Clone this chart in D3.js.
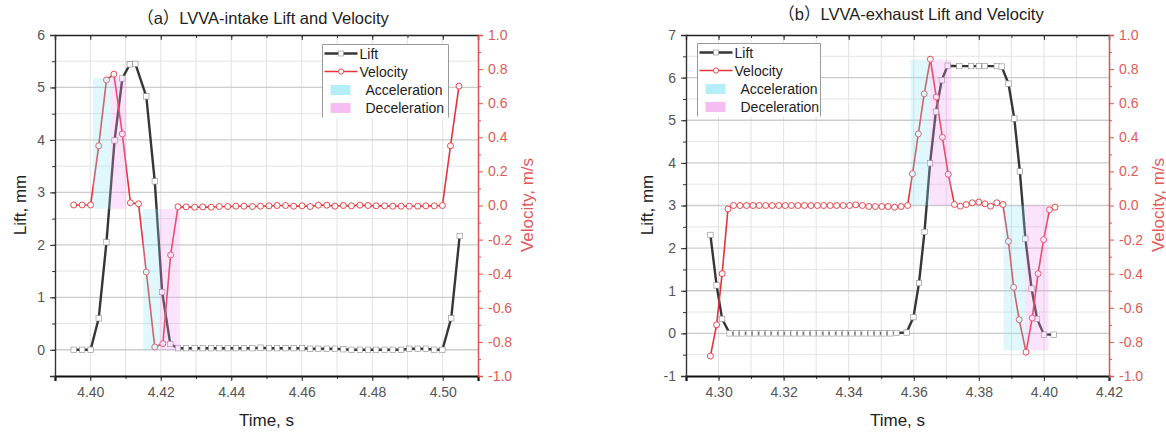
<!DOCTYPE html>
<html>
<head>
<meta charset="utf-8">
<script src="https://cdn.jsdelivr.net/npm/d3@7"></script>
<style>
body { margin: 0; background: #fff; }
svg { display: block; font-family: "Liberation Sans", Arial, "Noto Sans CJK SC", sans-serif; }
</style>
</head>
<body>
<div id="main"></div>
<script>
var WIDTH = 1166, HEIGHT = 432;

// ---- (a) intake ----
var intakeVelTime = [4.3953, 4.3977, 4.4001, 4.4024, 4.4046, 4.4067, 4.4091, 4.4114, 4.4137, 4.4159, 4.4183, 4.4206, 4.4228, 4.4249,
	4.4272, 4.4296, 4.4319, 4.4343, 4.4366, 4.4390, 4.4413, 4.4436, 4.4460, 4.4483,
	4.4507, 4.4530, 4.4554, 4.4577, 4.4601, 4.4624, 4.4647, 4.4671, 4.4694, 4.4718,
	4.4741, 4.4765, 4.4788, 4.4811, 4.4835, 4.4858, 4.4882, 4.4905, 4.4929, 4.4952,
	4.4976, 4.4999, 4.5022, 4.5046];
var intakeVel = [0.003, 0.003, 0.003, 0.35, 0.736, 0.77, 0.42, 0.016, 0.01, -0.39, -0.83, -0.81, -0.29, -0.007,
	-0.008, -0.01, -0.008, -0.01, -0.006, -0.006, -0.004, -0.004, -0.006, -0.004,
	-0.002, 0.0, 0.0, -0.004, -0.002, -0.006, 0.002, 0.002, -0.004, 0.0,
	-0.002, 0.002, 0.0, -0.002, -0.002, -0.004, -0.004, -0.004, -0.004, -0.002,
	-0.002, 0.0, 0.35, 0.70];
var intakeLiftTime = [4.3953, 4.3977, 4.4001, 4.4024, 4.4046, 4.4069, 4.4091, 4.4112, 4.4128, 4.4159, 4.4183, 4.4204, 4.4227, 4.4249,
	4.4272, 4.4296, 4.4319, 4.4343, 4.4366, 4.4390, 4.4413, 4.4436, 4.4460, 4.4483,
	4.4507, 4.4530, 4.4554, 4.4577, 4.4601, 4.4624, 4.4647, 4.4671, 4.4694, 4.4718,
	4.4741, 4.4765, 4.4788, 4.4811, 4.4835, 4.4858, 4.4882, 4.4905, 4.4929, 4.4952,
	4.4976, 4.4999, 4.5024, 4.5048];
var intakeLift = [0.0, 0.0, 0.0, 0.6, 2.05, 3.99, 5.17, 5.44, 5.45, 4.83, 3.21, 1.1, 0.11, 0.03,
	0.03, 0.03, 0.03, 0.03, 0.03, 0.03, 0.03, 0.03, 0.03, 0.04,
	0.03, 0.03, 0.03, 0.03, 0.03, 0.02, 0.02, 0.02, 0.02, 0.01,
	0.0, 0.0, 0.0, 0.0, 0.0, 0.0, 0.0, 0.02, 0.02, 0.02,
	0.0, 0.0, 0.6, 2.17];
// shaded bands: [t start, t end, v low, v high]
var intakeAccel = [[4.4008, 4.4058, -0.02, 0.75], [4.4150, 4.4197, -0.85, -0.02]];
var intakeDecel = [[4.4058, 4.4103, -0.02, 0.75], [4.4197, 4.4254, -0.85, -0.02]];
var intakeTimeTicks = [4.40, 4.42, 4.44, 4.46, 4.48, 4.50];
var intakeLiftTicks = [0, 1, 2, 3, 4, 5, 6];

// ---- (b) exhaust ----
var exhaustVelTime = [4.2975, 4.2994, 4.3011, 4.3029,
	4.3046, 4.3066, 4.3086, 4.3106, 4.3125, 4.3145, 4.3165, 4.3185, 4.3205, 4.3224,
	4.3244, 4.3264, 4.3284, 4.3304, 4.3323, 4.3343, 4.3363, 4.3383, 4.3403, 4.3422,
	4.3442, 4.3462, 4.3482, 4.3502, 4.3521, 4.3541, 4.3561,
	4.3581, 4.3596, 4.3614, 4.3632, 4.3651, 4.3669, 4.3688, 4.3706, 4.3725, 4.3743,
	4.3761, 4.3780, 4.3800, 4.3819, 4.3836, 4.3855, 4.3874,
	4.3891, 4.3907, 4.3924, 4.3945, 4.3964, 4.3982, 4.3999, 4.4017, 4.4034];
var exhaustVel = [-0.883, -0.70, -0.40, -0.02,
	0.0, 0.0, 0.0, 0.0, 0.0, 0.0, 0.0, 0.0, 0.0, 0.0,
	0.0, 0.0, 0.0, 0.0, 0.0, 0.0, 0.0, 0.0, 0.0, 0.004,
	0.0, -0.006, -0.006, -0.006, -0.006, -0.01, -0.006,
	0.0, 0.186, 0.42, 0.655, 0.858, 0.637, 0.40, 0.183, 0.006, -0.004,
	0.006, 0.016, 0.02, 0.01, -0.004, 0.016, 0.006,
	-0.21, -0.48, -0.67, -0.86, -0.66, -0.40, -0.20, -0.025, -0.01];
var exhaustLiftTime = [4.2975, 4.2994, 4.3011, 4.3034,
	4.3054, 4.3073, 4.3093, 4.3113, 4.3133, 4.3152, 4.3172, 4.3192, 4.3212, 4.3231,
	4.3251, 4.3271, 4.3291, 4.3310, 4.3330, 4.3350, 4.3370, 4.3389, 4.3409, 4.3429,
	4.3449, 4.3468, 4.3488, 4.3508, 4.3528, 4.3547, 4.3578,
	4.3599, 4.3616, 4.3633, 4.3650, 4.3668, 4.3686, 4.3704,
	4.3740, 4.3776, 4.3800, 4.3818, 4.3855, 4.3870,
	4.3891, 4.3909, 4.3926, 4.3943, 4.3962, 4.3979, 4.4000, 4.4030];
var exhaustLift = [2.31, 1.125, 0.34, 0.0,
	0.0, 0.0, 0.0, 0.0, 0.0, 0.0, 0.0, 0.0, 0.0, 0.0,
	0.0, 0.0, 0.0, 0.0, 0.0, 0.0, 0.0, 0.0, 0.0, 0.0,
	0.0, 0.0, 0.0, 0.0, 0.0, 0.01, 0.02,
	0.38, 1.18, 2.38, 3.99, 5.2, 5.94, 6.28,
	6.27, 6.27, 6.27, 6.27, 6.27, 6.26,
	5.86, 5.04, 3.80, 2.22, 1.05, 0.34, -0.03, -0.03];
var exhaustAccel = [[4.3590, 4.3650, 0.0, 0.855], [4.3876, 4.3942, -0.85, 0.0]];
var exhaustDecel = [[4.3650, 4.3716, 0.0, 0.855], [4.3942, 4.4014, -0.85, 0.0]];
var exhaustTimeTicks = [4.30, 4.32, 4.34, 4.36, 4.38, 4.40, 4.42];
var exhaustLiftTicks = [-1, 0, 1, 2, 3, 4, 5, 6, 7];

var velTicks = [-1.0, -0.8, -0.6, -0.4, -0.2, 0.0, 0.2, 0.4, 0.6, 0.8, 1.0];
var legendNames = ["Lift", "Velocity", "Acceleration", "Deceleration"];

var RED = "#e4343c", RED_AXIS = "#d9534f", RED_TEXT = "#e05a5a";
var DARK = "#363636", TICK_TEXT = "#555";
var CYAN = "#8fe6f2", PINK = "#f29cf0";

var svg = d3.select("#main").append("svg")
	.attr("width", WIDTH)
	.attr("height", HEIGHT);

function zip(a, b) {
	return a.map(function(d, i) { return [d, b[i]]; });
}

function drawPanel(p) {
	var g = svg.append("g");
	var x = d3.scaleLinear().domain(p.xDom).range([p.left, p.right]);
	var yL = d3.scaleLinear().domain(p.liftDom).range([p.bottom, p.top]);
	var yV = d3.scaleLinear().domain([-1, 1]).range([p.bottom, p.top]);

	// grid
	var xMinor = d3.range(Math.round(p.xDom[0] * 100) + 1, Math.round(p.xDom[1] * 100)).map(function(d) { return d / 100; });
	var yGrid = d3.range(p.liftDom[0] * 2 + 1, p.liftDom[1] * 2).map(function(d) { return d / 2; });
	g.selectAll(".vgrid").data(xMinor).enter().append("line")
		.attr("x1", function(d) { return x(d); }).attr("x2", function(d) { return x(d); })
		.attr("y1", p.top).attr("y2", p.bottom)
		.attr("stroke", "#e2e2e2").attr("stroke-width", 1);
	g.selectAll(".hgrid").data(yGrid).enter().append("line")
		.attr("x1", p.left).attr("x2", p.right)
		.attr("y1", function(d) { return yL(d); }).attr("y2", function(d) { return yL(d); })
		.attr("stroke", function(d) { return d % 1 === 0 ? "#cccccc" : "#e4e4e4"; })
		.attr("stroke-width", function(d) { return d % 1 === 0 ? 1.3 : 1; });

	var liftData = zip(p.liftT, p.lift);
	var velData = zip(p.velT, p.vel);

	g.append("path").datum(liftData)
		.attr("d", d3.line().x(function(d) { return x(d[0]); }).y(function(d) { return yL(d[1]); }))
		.attr("fill", "none").attr("stroke", DARK).attr("stroke-width", 2.4);
	g.append("path").datum(velData)
		.attr("d", d3.line().x(function(d) { return x(d[0]); }).y(function(d) { return yV(d[1]); }))
		.attr("fill", "none").attr("stroke", RED).attr("stroke-width", 1.6);

	g.selectAll(".liftPt").data(liftData).enter().append("rect")
		.attr("x", function(d) { return x(d[0]) - 2.7; })
		.attr("y", function(d) { return yL(d[1]) - 2.7; })
		.attr("width", 5.4).attr("height", 5.4)
		.attr("fill", "#fff").attr("stroke", "#8a8a8a").attr("stroke-width", 0.6);
	g.selectAll(".velPt").data(velData).enter().append("circle")
		.attr("cx", function(d) { return x(d[0]); })
		.attr("cy", function(d) { return yV(d[1]); })
		.attr("r", 3)
		.attr("fill", "#fff").attr("stroke", RED).attr("stroke-width", 0.9);

	// shaded bands drawn over the curves
	function band(list, color) {
		g.selectAll(null).data(list).enter().append("rect")
			.attr("x", function(d) { return x(d[0]); })
			.attr("width", function(d) { return x(d[1]) - x(d[0]); })
			.attr("y", function(d) { return yV(d[3]); })
			.attr("height", function(d) { return yV(d[2]) - yV(d[3]); })
			.attr("fill", color).attr("opacity", 0.28);
	}
	band(p.accel, CYAN);
	band(p.decel, PINK);

	// axes
	g.append("g").attr("transform", "translate(0," + p.bottom + ")")
		.call(d3.axisBottom(x).tickValues(xMinor).tickSize(3).tickFormat(""))
		.select(".domain").remove();
	var bottom = g.append("g").attr("transform", "translate(0," + p.bottom + ")")
		.call(d3.axisBottom(x).tickValues(p.xTicks).tickSize(5).tickPadding(6).tickFormat(d3.format(".2f")));
	bottom.select(".domain").attr("stroke", "#111").attr("stroke-width", 2.2);

	var top = g.append("g").attr("transform", "translate(0," + p.top + ")")
		.call(d3.axisTop(x).tickValues(p.xTicks).tickSize(-5).tickFormat(""));
	top.select(".domain").attr("stroke", "#222").attr("stroke-width", 1.4);
	g.append("g").attr("transform", "translate(0," + p.top + ")")
		.call(d3.axisTop(x).tickValues(xMinor).tickSize(-3).tickFormat(""))
		.select(".domain").remove();

	g.append("g").attr("transform", "translate(" + p.left + ",0)")
		.call(d3.axisLeft(yL).tickValues(yGrid).tickSize(3).tickFormat(""))
		.select(".domain").remove();
	var left = g.append("g").attr("transform", "translate(" + p.left + ",0)")
		.call(d3.axisLeft(yL).tickValues(p.liftTicks).tickSize(5).tickPadding(5).tickFormat(function(d) { return String(d); }));
	left.select(".domain").attr("stroke", "#333").attr("stroke-width", 1.4);

	g.selectAll(".tick line").attr("stroke", "#333");

	var vMinor = d3.range(-9, 10, 2).map(function(d) { return d / 10; });
	var rightMinor = g.append("g").attr("transform", "translate(" + p.right + ",0)")
		.call(d3.axisRight(yV).tickValues(vMinor).tickSize(3).tickFormat(""));
	rightMinor.select(".domain").remove();
	rightMinor.selectAll(".tick line").attr("stroke", RED_AXIS);
	var right = g.append("g").attr("transform", "translate(" + p.right + ",0)")
		.call(d3.axisRight(yV).tickValues(velTicks).tickSize(5).tickPadding(5).tickFormat(function(d) { return d.toFixed(1); }));
	right.select(".domain").attr("stroke", RED_AXIS).attr("stroke-width", 1.5);
	right.selectAll(".tick line").attr("stroke", RED_AXIS);

	g.selectAll(".tick text").attr("font-size", 14).attr("fill", TICK_TEXT)
		.attr("font-family", "'Liberation Sans', Arial, sans-serif");
	right.selectAll(".tick text").attr("fill", RED_TEXT);

	// titles
	g.append("text").attr("x", p.titleX).attr("y", p.titleY)
		.attr("text-anchor", "middle").attr("dominant-baseline", "central")
		.attr("font-size", 16.5).attr("fill", "#222").text(p.title);
	g.append("text").attr("x", (p.left + p.right) / 2).attr("y", 420)
		.attr("text-anchor", "middle").attr("dominant-baseline", "central")
		.attr("font-size", 17).attr("fill", "#222").text("Time, s");
	g.append("text").attr("transform", "translate(" + p.liftLabelX + ",205) rotate(-90)")
		.attr("text-anchor", "middle").attr("dominant-baseline", "central")
		.attr("font-size", 17).attr("fill", "#222").text("Lift, mm");
	g.append("text").attr("transform", "translate(" + p.velLabelX + ",205) rotate(-90)")
		.attr("text-anchor", "middle").attr("dominant-baseline", "central")
		.attr("font-size", 17).attr("fill", RED_TEXT).text("Velocity, m/s");

	// legend
	var L = p.legend;
	var lg = g.append("g");
	lg.append("rect").attr("x", L.x).attr("y", L.y).attr("width", L.w).attr("height", L.h)
		.attr("fill", "#fff");
	lg.append("path")
		.attr("d", "M" + L.x + "," + (L.y + L.h) + "V" + L.y + "H" + (L.x + L.w) + "V" + (L.y + L.h))
		.attr("fill", "none").attr("stroke", "#9a9a9a").attr("stroke-width", 1);
	var rows = [L.y + 9, L.y + 27, L.y + 45.5, L.y + 63.5];
	var lx0 = L.x + 2, lx1 = L.x + 35, mid = (lx0 + lx1) / 2;
	lg.append("line").attr("x1", lx0).attr("x2", lx1).attr("y1", rows[0]).attr("y2", rows[0])
		.attr("stroke", DARK).attr("stroke-width", 2.4);
	lg.append("rect").attr("x", mid - 2.5).attr("y", rows[0] - 2.5).attr("width", 5).attr("height", 5)
		.attr("fill", "#fff").attr("stroke", "#8a8a8a").attr("stroke-width", 0.6);
	lg.append("line").attr("x1", lx0).attr("x2", lx1).attr("y1", rows[1]).attr("y2", rows[1])
		.attr("stroke", RED).attr("stroke-width", 1.6);
	lg.append("circle").attr("cx", mid).attr("cy", rows[1]).attr("r", 2.6)
		.attr("fill", "#fff").attr("stroke", RED).attr("stroke-width", 0.9);
	lg.append("rect").attr("x", L.x + 8).attr("y", rows[2] - 5).attr("width", 20).attr("height", 10)
		.attr("fill", "#b4eef7");
	lg.append("rect").attr("x", L.x + 8).attr("y", rows[3] - 5).attr("width", 20).attr("height", 10)
		.attr("fill", "#f5bdf2");
	lg.selectAll(".lt").data(legendNames).enter().append("text")
		.attr("x", function(d, i) { return i < 2 ? L.x + 37 : L.x + 43; })
		.attr("y", function(d, i) { return rows[i]; })
		.attr("dominant-baseline", "central")
		.attr("font-size", 14).attr("fill", "#222")
		.text(function(d) { return d; });
}

drawPanel({
	title: "（a）LVVA-intake Lift and Velocity", titleX: 263, titleY: 18,
	left: 55, right: 478, top: 35, bottom: 376,
	xDom: [4.39, 4.51], liftDom: [-0.5, 6],
	xTicks: intakeTimeTicks, liftTicks: intakeLiftTicks,
	liftT: intakeLiftTime, lift: intakeLift, velT: intakeVelTime, vel: intakeVel,
	accel: intakeAccel, decel: intakeDecel,
	liftLabelX: 20, velLabelX: 527,
	legend: { x: 322.5, y: 44.5, w: 126, h: 73 }
});

drawPanel({
	title: "（b）LVVA-exhaust Lift and Velocity", titleX: 911, titleY: 14,
	left: 686, right: 1109, top: 35, bottom: 376,
	xDom: [4.29, 4.42], liftDom: [-1, 7],
	xTicks: exhaustTimeTicks, liftTicks: exhaustLiftTicks,
	liftT: exhaustLiftTime, lift: exhaustLift, velT: exhaustVelTime, vel: exhaustVel,
	accel: exhaustAccel, decel: exhaustDecel,
	liftLabelX: 647, velLabelX: 1158,
	legend: { x: 697.5, y: 43.5, w: 123, h: 73 }
});
</script>
</body>
</html>
